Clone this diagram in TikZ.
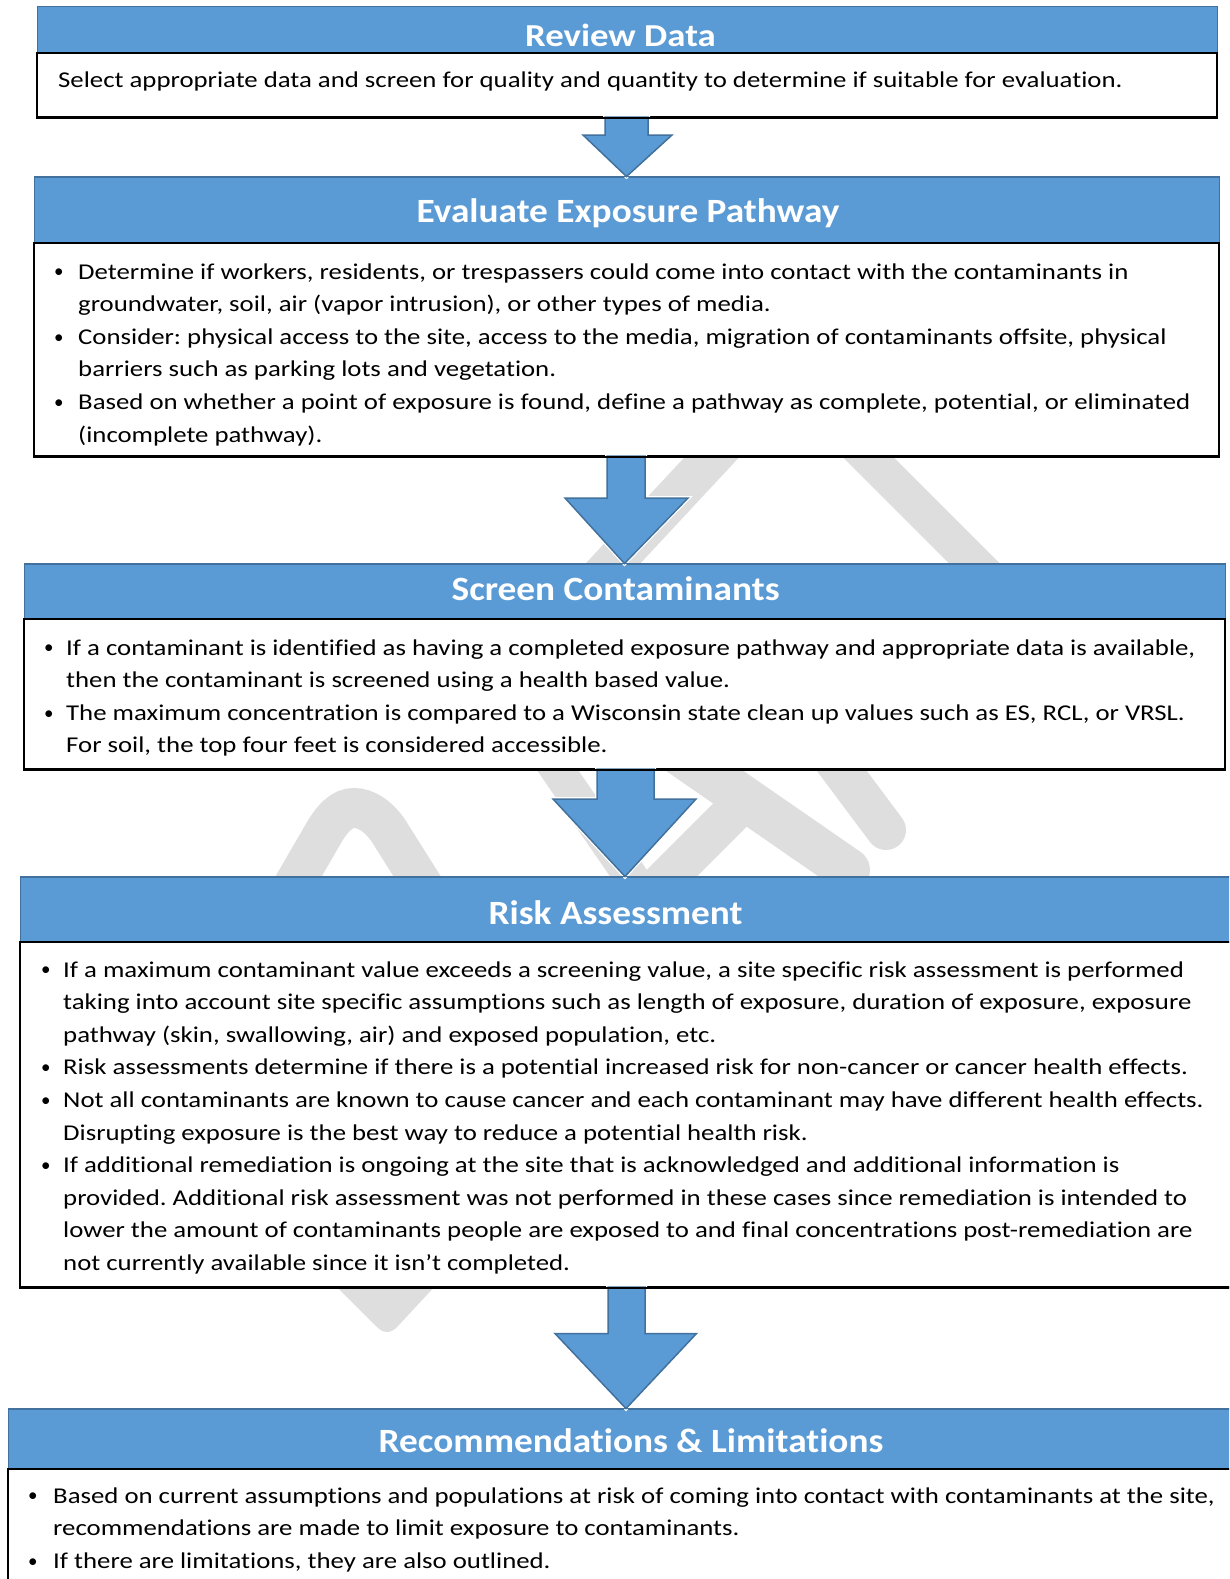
\documentclass[tikz,border=0pt]{standalone}
\usepackage{fontspec}
\setmainfont{Carlito}[Ligatures=NoCommon]
\newfontfamily\bodyfont{Carlito}[FakeStretch=1.185,Ligatures=NoCommon]
\newfontfamily\headfont{Carlito}[FakeStretch=1.097,Ligatures=NoCommon]
\newfontfamily\headfontA{Carlito}[FakeStretch=1.15,Ligatures=NoCommon]
\newfontfamily\bulfont{Carlito}
\usetikzlibrary{calc}
\definecolor{hdrblue}{HTML}{5B9BD5}
\definecolor{hdredge}{HTML}{41719C}
\definecolor{wmgray}{HTML}{DEDEDE}
\newlength\bwid
\newcommand\bl{\makebox[\bwid][l]{\hspace{1pt}\raisebox{1.2pt}{\bulfont\fontsize{19}{19}\selectfont\textbullet}}}
\frenchspacing
\begin{document}
\begin{tikzpicture}[x=1pt,y=-1pt,
  hdr/.style={rectangle, fill=hdrblue, draw=hdredge, line width=1pt, inner sep=0pt},
  body/.style={rectangle, fill=white, draw=black, line width=2pt, inner sep=0pt},
  htext/.style={anchor=base, text=white, inner sep=0pt, font=\headfont\fontsize{34}{40}\selectfont\bfseries},
  btext/.style={anchor=base west, inner sep=0pt, font=\bodyfont\fontsize{22.6}{32.6}\selectfont\frenchspacing},
  arr/.style={preaction={draw=white, line width=4pt, line join=miter}, fill=hdrblue, draw=hdredge, line width=1.5pt, line join=miter},
  wm/.style={draw=wmgray, line width=40pt, line cap=round}]
\useasboundingbox (0,0) rectangle (1229,1579);
\begin{scope}
\clip (0,0) rectangle (1229,1579);
% watermark fragments
\draw[wm] (740,427) -- (592,586);
\draw[wm, line width=36pt] (820,409) -- (1020,609);
\draw[wm] (282,905) -- (322,836) .. controls (332,818) and (342,808) .. (354,808) .. controls (366,808) and (378,816) .. (388,830) -- (432,900);
\draw[wm, line width=34pt] (530,730) -- (640,890);
\draw[wm, line width=40pt] (745,800) -- (655,890);
\draw[wm, line width=44pt] (660,740) -- (848,870);
\draw[wm, line width=40pt] (815,735) -- (886,830);
\fill[wmgray] (320,1270) -- (450,1270) -- (398,1326) .. controls (391,1334) and (383,1334) .. (376,1326) -- cycle;
% boxes
\node[hdr, minimum width=1180pt, minimum height=46pt] (h1) at (627,30) {};
\node[body, minimum width=1180pt, minimum height=64pt] (b1) at (627,85) {};
\node[hdr, minimum width=1185pt, minimum height=66pt] (h2) at (626.5,210) {};
\node[body, minimum width=1185pt, minimum height=213pt] (b2) at (626.5,349.5) {};
\node[hdr, minimum width=1201pt, minimum height=55pt] (h3) at (624.5,591.5) {};
\node[body, minimum width=1201pt, minimum height=150pt] (b3) at (624.5,694) {};
\node[hdr, minimum width=1215pt, minimum height=65pt] (h4) at (627.5,909.5) {};
\node[body, minimum width=1215pt, minimum height=345pt] (b4) at (627.5,1114.5) {};
\node[hdr, minimum width=1242pt, minimum height=60pt] (h5) at (629,1439) {};
\node[body, minimum width=1242pt, minimum height=131pt] (b5) at (629,1534.5) {};
% arrows
\filldraw[arr] ($(b1.south)+(-22,-1)$) -- ($(b1.south)+(-22,17)$) -- ($(b1.south)+(-44,17)$) -- (h2.north) -- ($(b1.south)+(45,17)$) -- ($(b1.south)+(21,17)$) -- ($(b1.south)+(21,-1)$) -- cycle;
\filldraw[arr] ($(b2.south)+(-19.5,-1)$) -- ($(b2.south)+(-19.5,41)$) -- ($(b2.south)+(-61.5,41)$) -- (h3.north) -- ($(b2.south)+(61.5,41)$) -- ($(b2.south)+(18.5,41)$) -- ($(b2.south)+(18.5,-1)$) -- cycle;
\filldraw[arr] ($(b3.south)+(-27.5,-1)$) -- ($(b3.south)+(-27.5,29)$) -- ($(b3.south)+(-71.5,29)$) -- ($(h4.north)+(-2.5,0)$) -- ($(b3.south)+(71.5,29)$) -- ($(b3.south)+(29.5,29)$) -- ($(b3.south)+(29.5,-1)$) -- cycle;
\filldraw[arr] ($(b4.south)+(-19.5,-1)$) -- ($(b4.south)+(-19.5,45.5)$) -- ($(b4.south)+(-72.5,45.5)$) -- ($(h5.north)+(-3,0)$) -- ($(b4.south)+(69,45.5)$) -- ($(b4.south)+(17.5,45.5)$) -- ($(b4.south)+(17.5,-1)$) -- cycle;
% redraw box edges over arrow shafts and tips
\draw[black, line width=2pt] (b1.south west) -- (b1.south east);
\draw[black, line width=2pt] (b2.south west) -- (b2.south east);
\draw[black, line width=2pt] (b3.south west) -- (b3.south east);
\draw[black, line width=2pt] (b4.south west) -- (b4.south east);
\draw[hdredge, line width=1pt] (h2.north west) -- (h2.north east);
\draw[hdredge, line width=1pt] (h3.north west) -- (h3.north east);
\draw[hdredge, line width=1pt] (h4.north west) -- (h4.north east);
\draw[hdredge, line width=1pt] (h5.north west) -- (h5.north east);
\end{scope}
% header texts
\node[htext, font=\headfontA\fontsize{32}{38}\selectfont\bfseries] (t1) at (620.5,47) {Review Data};
\node[htext] (t2) at (628,222) {Evaluate Exposure Pathway};
\node[htext] (t3) at (615.6,600) {Screen Contaminants};
\node[htext] (t4) at (615.6,924) {Risk Assessment};
\node[htext] (t5) at (631,1452) {Recommendations \& Limitations};
% body texts
\node[btext] (x1) at (58,88) {Select appropriate data and screen for quality and quantity to determine if suitable for evaluation.};
\node[btext] (x2) at (53,279) {\setlength\bwid{25pt}\begin{tabular}[t]{@{}l@{}l@{}}
\bl & Determine if workers, residents, or trespassers could come into contact with the contaminants in\\
 & groundwater, soil, air (vapor intrusion), or other types of media.\\
\bl & Consider: physical access to the site, access to the media, migration of contaminants offsite, physical\\
 & barriers such as parking lots and vegetation.\\
\bl & Based on whether a point of exposure is found, define a pathway as complete, potential, or eliminated\\
 & (incomplete pathway).
\end{tabular}};
\node[btext] (x3) at (43,655) {\setlength\bwid{23pt}\begin{tabular}[t]{@{}l@{}l@{}}
\bl & If a contaminant is identified as having a completed exposure pathway and appropriate data is available,\\
 & then the contaminant is screened using a health based value.\\
\bl & The maximum concentration is compared to a Wisconsin state clean up values such as ES, RCL, or VRSL.\\
 & For soil, the top four feet is considered accessible.
\end{tabular}};
\node[btext] (x4) at (40,977) {\setlength\bwid{23pt}\begin{tabular}[t]{@{}l@{}l@{}}
\bl & If a maximum contaminant value exceeds a screening value, a site specific risk assessment is performed\\
 & taking into account site specific assumptions such as length of exposure, duration of exposure, exposure\\
 & pathway (skin, swallowing, air) and exposed population, etc.\\
\bl & Risk assessments determine if there is a potential increased risk for non-cancer or cancer health effects.\\
\bl & Not all contaminants are known to cause cancer and each contaminant may have different health effects.\\
 & Disrupting exposure is the best way to reduce a potential health risk.\\
\bl & If additional remediation is ongoing at the site that is acknowledged and additional information is\\
 & provided. Additional risk assessment was not performed in these cases since remediation is intended to\\
 & lower the amount of contaminants people are exposed to and final concentrations post-remediation are\\
 & not currently available since it isn’t completed.
\end{tabular}};
\node[btext] (x5) at (27,1503) {\setlength\bwid{26pt}\begin{tabular}[t]{@{}l@{}l@{}}
\bl & Based on current assumptions and populations at risk of coming into contact with contaminants at the site,\\
 & recommendations are made to limit exposure to contaminants.\\
\bl & If there are limitations, they are also outlined.
\end{tabular}};
\end{tikzpicture}
\end{document}
